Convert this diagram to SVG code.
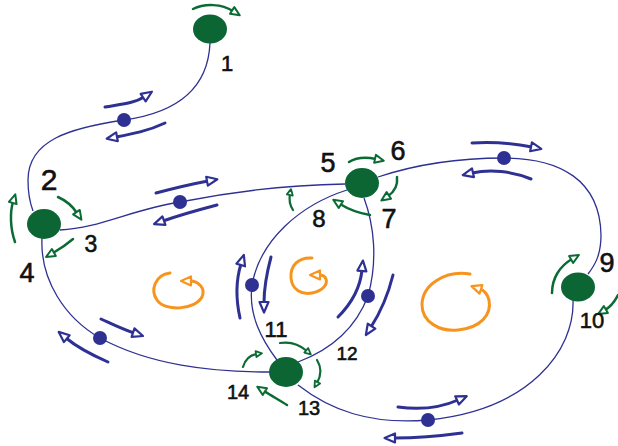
<svg xmlns="http://www.w3.org/2000/svg" width="618" height="446" viewBox="0 0 618 446">
<defs>
<marker id="hb" viewBox="-2 -2 14 13" refX="1" refY="4.5" markerWidth="14" markerHeight="13" markerUnits="userSpaceOnUse" orient="auto"><path d="M0,0 L10.5,4.5 L0,9 z" fill="#fff" stroke="#2e3192" stroke-width="2.2" stroke-linejoin="round"/></marker>
<marker id="hg" viewBox="-2 -2 13 12" refX="1" refY="4" markerWidth="13" markerHeight="12" markerUnits="userSpaceOnUse" orient="auto"><path d="M0,0 L9,4 L0,8 z" fill="#fff" stroke="#0b6b34" stroke-width="2" stroke-linejoin="round"/></marker>
<marker id="hgs" viewBox="-2 -2 10 9" refX="1" refY="3" markerWidth="10" markerHeight="9" markerUnits="userSpaceOnUse" orient="auto"><path d="M0,0 L6,3 L0,6 z" fill="#fff" stroke="#0b6b34" stroke-width="1.8" stroke-linejoin="round"/></marker>
<marker id="ho" viewBox="-2 -2 15 13" refX="1" refY="4.5" markerWidth="15" markerHeight="13" markerUnits="userSpaceOnUse" orient="auto"><path d="M0,0 L10,4.5 L0,9 z" fill="#fff" stroke="#f7941d" stroke-width="2.2" stroke-linejoin="round"/></marker>
</defs>
<style>
.edge{fill:none;stroke:#2e3192;stroke-width:1.3}
.node{fill:#0b6634}
.dot{fill:#2e3192}
.fb{fill:none;stroke:#2e3192;stroke-width:3;stroke-linecap:round;marker-end:url(#hb)}
.fg{fill:none;stroke:#0b6b34;stroke-width:2.5;stroke-linecap:round;marker-end:url(#hg)}
.fgs{fill:none;stroke:#0b6b34;stroke-width:2.2;stroke-linecap:round;marker-end:url(#hgs)}
.sp{fill:none;stroke:#f7941d;stroke-width:3;stroke-linecap:round;marker-end:url(#ho)}
.lb{font-family:"Liberation Sans",Arial,sans-serif;fill:#111;stroke:#111;stroke-width:0.6;text-anchor:middle}
</style>
<rect width="618" height="446" fill="#fff"/>
<g id="connectors">
<path class="edge" d="M210,43 C208,90 175,113 124,120 C70,128 28,140 28,180 C28,195 30,203 33,211"/>
<path class="edge" d="M60,230 C100,228 130,210 180,202 C240,190 290,185 345,184"/>
<path class="edge" d="M42,238 C40,280 65,318 100,338 C150,365 210,372 270,372"/>
<path class="edge" d="M378,177 C420,163 460,158 504,158 C560,158 600,180 601,235 C601,255 595,265 588,274"/>
<path class="edge" d="M573,300 C575,350 530,410 428,420 C370,425 330,410 298,385"/>
<path class="edge" d="M347,190 C300,205 260,240 252,285 C248,315 262,340 277,360"/>
<path class="edge" d="M364,198 C374,225 378,260 368,296 C355,330 330,350 298,362"/>
<circle class="dot" cx="124" cy="120" r="7"/>
<circle class="dot" cx="180" cy="202" r="7"/>
<circle class="dot" cx="504" cy="158" r="7"/>
<circle class="dot" cx="100" cy="338" r="7"/>
<circle class="dot" cx="252" cy="285" r="7"/>
<circle class="dot" cx="368" cy="296" r="7"/>
<circle class="dot" cx="428" cy="420" r="7"/>
</g>
<g id="flows">
<path class="fb" d="M105,107 C122,104 135,103 144,97"/>
<path class="fb" d="M165,123 C148,131 132,134 116,137"/>
<path class="fb" d="M156,193 C175,188 192,184 208,181"/>
<path class="fb" d="M217,205 C198,210 180,215 163,221"/>
<path class="fb" d="M101,319 C112,324 122,329 134,333"/>
<path class="fb" d="M108,362 C92,355 78,348 66,338"/>
<path class="fb" d="M472,143 C490,142 512,143 532,147"/>
<path class="fb" d="M531,179 C512,171 490,169 472,173"/>
<path class="fb" d="M398,407 C420,410 440,408 458,400"/>
<path class="fb" d="M462,433 C440,436 415,438 394,438"/>
<path class="fb" d="M240,318 C236,300 236,280 241,264"/>
<path class="fb" d="M271,257 C267,272 264,288 264,303"/>
<path class="fb" d="M338,317 C350,305 360,290 362,270"/>
<path class="fb" d="M393,275 C388,295 380,313 371,327"/>
<path class="fg" d="M193,9 C205,3 222,4 233,11"/>
<path class="fg" d="M58,197 C67,201 73,207 77,213"/>
<path class="fg" d="M15,242 C10,228 10,212 13,202"/>
<path class="fg" d="M73,239 C66,245 60,249 53,253"/>
<path class="fg" d="M349,162 C357,157 367,157 376,159"/>
<path class="fg" d="M397,177 C398,186 394,192 388,196"/>
<path class="fg" d="M370,215 C358,213 348,209 340,204"/>
<path class="fgs" d="M293,210 C289,204 289,199 290,194"/>
<path class="fg" d="M552,293 C552,278 560,266 572,259"/>
<path class="fg" d="M618,295 C614,303 610,307 605,310"/>
<path class="fgs" d="M280,343 C292,341 300,345 307,351"/>
<path class="fgs" d="M317,360 C322,368 321,376 317,383"/>
<path class="fg" d="M287,405 C279,400 272,396 264,391"/>
<path class="fgs" d="M243,367 C245,360 250,355 257,354"/>
</g>
<g id="cycles">
<path class="sp" d="M170,273 C155,275 150,290 157,300 C165,312 195,310 202,297 C206,288 198,281 190,281"/>
<path class="sp" d="M312,258 C298,257 290,266 291,278 C292,290 302,295 312,293 C322,291 328,285 326,279 C325,276 322,275 319,275"/>
<path class="sp" d="M470,274 C445,270 422,285 422,305 C422,322 440,332 458,330 C480,328 492,315 489,300 C487,293 483,290 480,289"/>
</g>
<g id="node-1"><ellipse class="node" cx="210" cy="29" rx="17" ry="14.5"/></g>
<g id="node-2"><ellipse class="node" cx="44" cy="224" rx="17" ry="15"/></g>
<g id="node-5"><ellipse class="node" cx="362" cy="183" rx="17" ry="15"/></g>
<g id="node-9"><ellipse class="node" cx="578" cy="287" rx="17" ry="14.5"/></g>
<g id="node-11"><ellipse class="node" cx="286" cy="372" rx="17" ry="15"/></g>
<g id="labels">
<text class="lb" x="227" y="71" font-size="22">1</text>
<text class="lb" x="49" y="190" font-size="30">2</text>
<text class="lb" x="91" y="252" font-size="23">3</text>
<text class="lb" x="27" y="282" font-size="27">4</text>
<text class="lb" x="328" y="172" font-size="27">5</text>
<text class="lb" x="398" y="160" font-size="27">6</text>
<text class="lb" x="389" y="228" font-size="27">7</text>
<text class="lb" x="319" y="227" font-size="24">8</text>
<text class="lb" x="607" y="272" font-size="27">9</text>
<text class="lb" x="592" y="328" font-size="22">10</text>
<text class="lb" x="276" y="337" font-size="22">11</text>
<text class="lb" x="347" y="360" font-size="19">12</text>
<text class="lb" x="309" y="415" font-size="20">13</text>
<text class="lb" x="238" y="399" font-size="20">14</text>
</g>
</svg>
